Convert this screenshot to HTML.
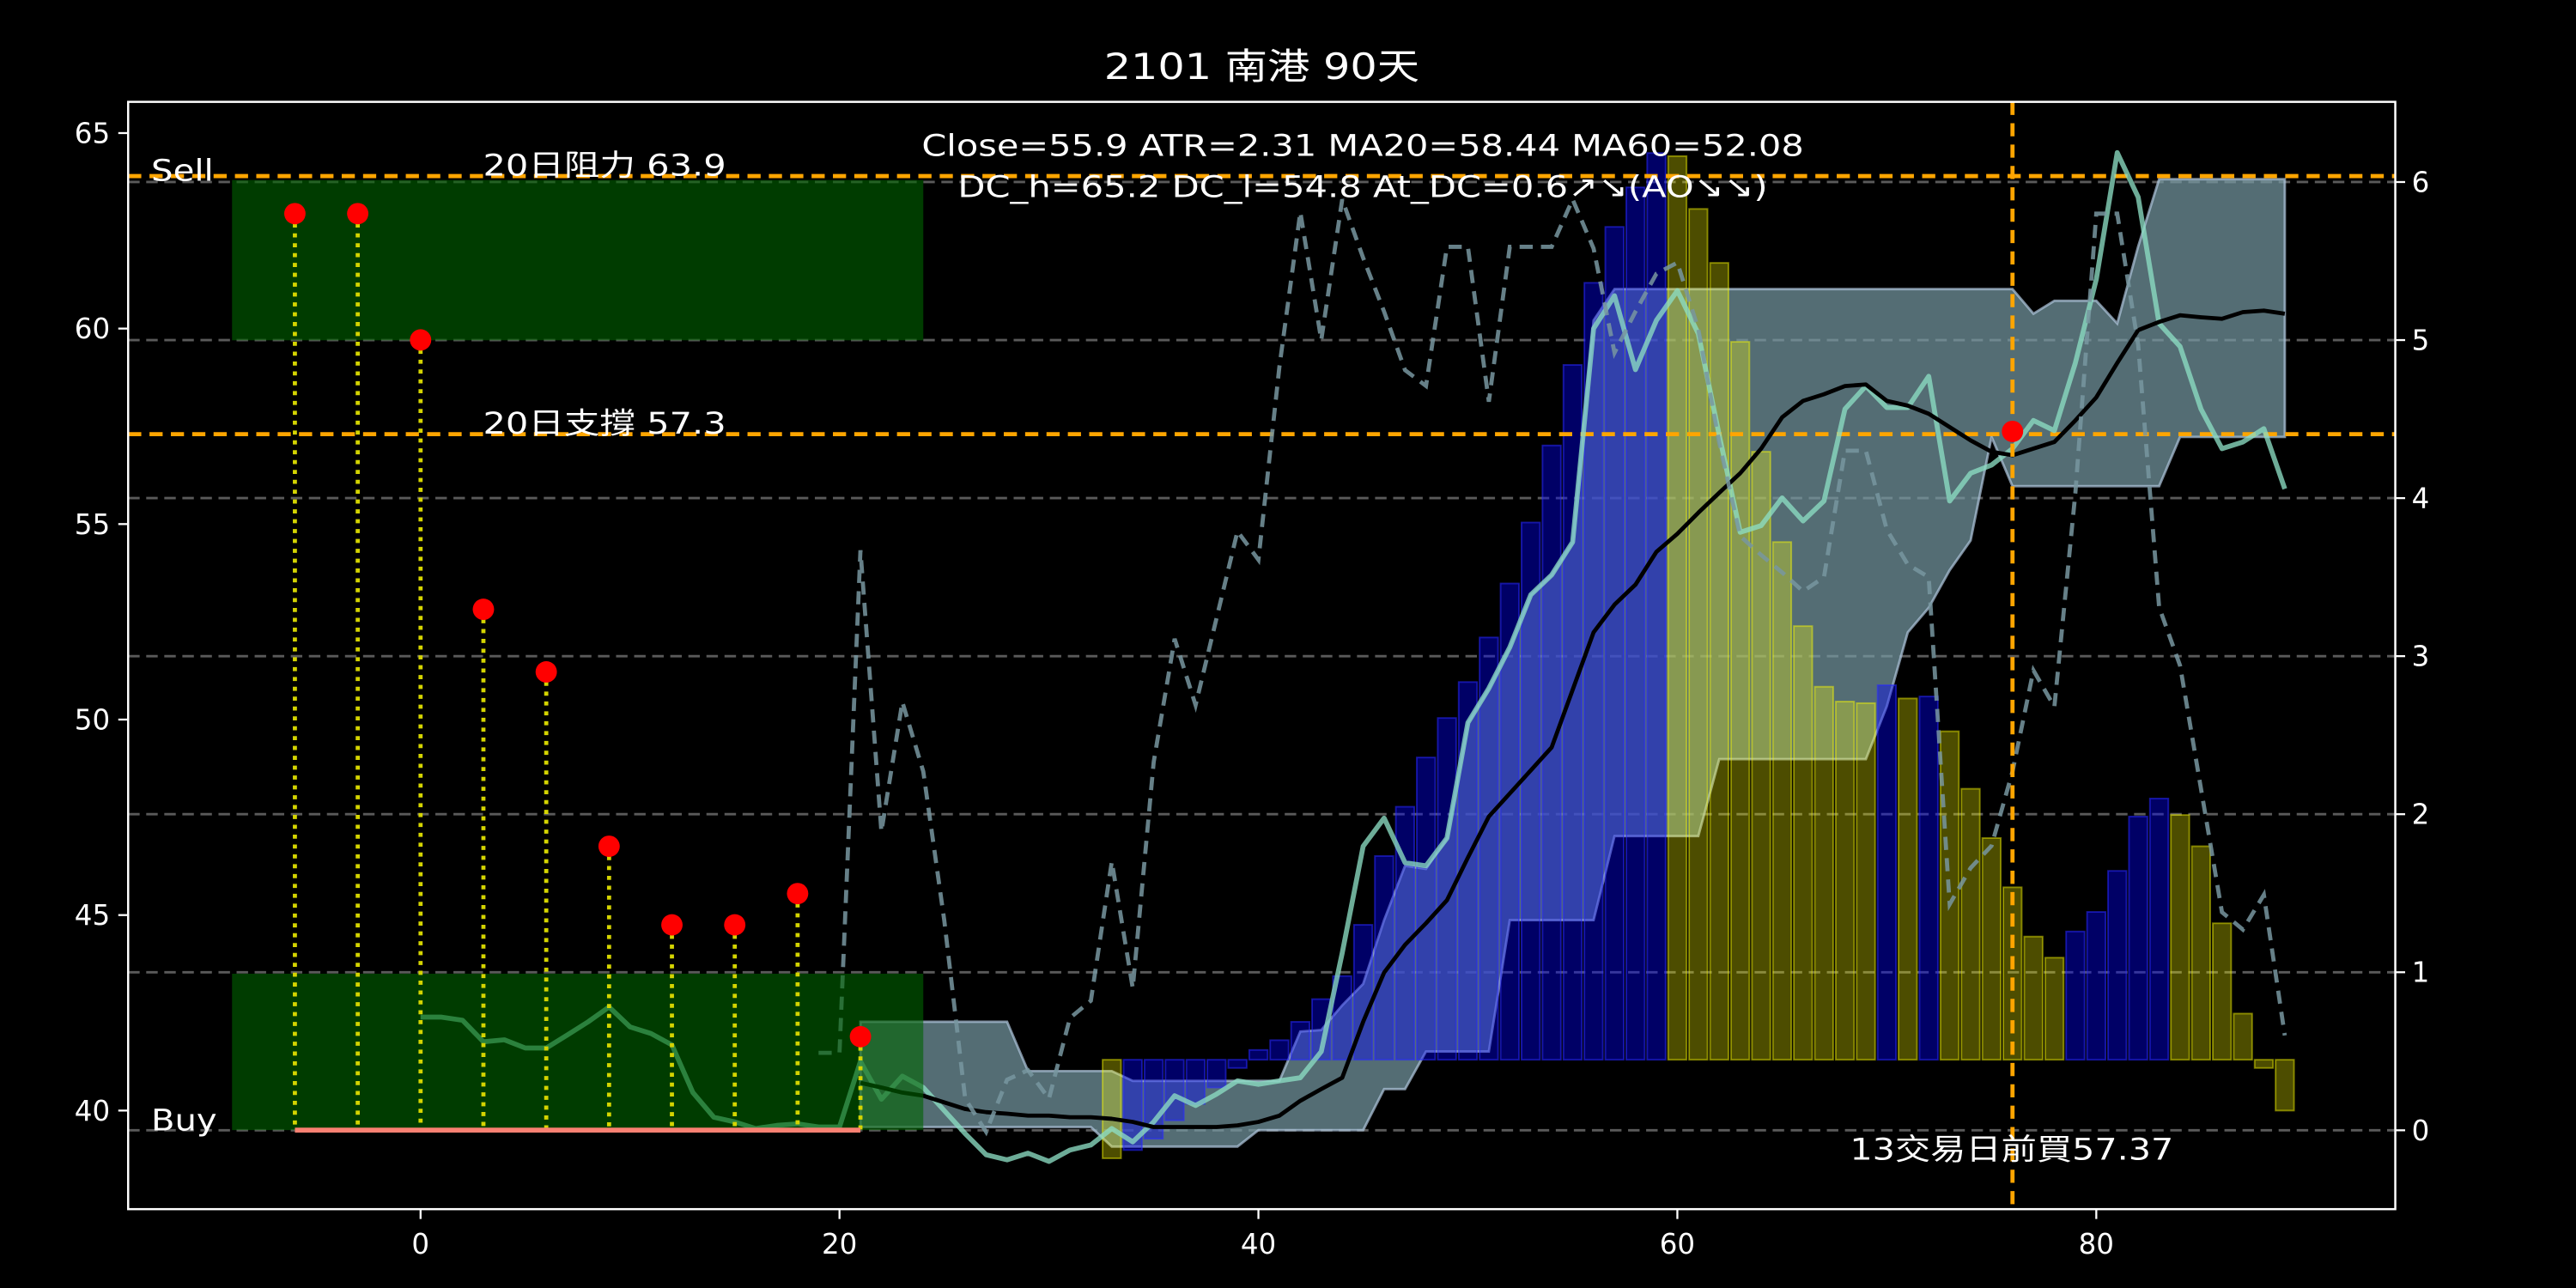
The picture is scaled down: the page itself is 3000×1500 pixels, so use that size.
<!DOCTYPE html>
<html><head><meta charset="utf-8"><title>2101 南港 90天</title>
<style>html,body{margin:0;padding:0;background:#000;}svg{display:block;}text{font-family:"DejaVu Sans","Liberation Sans","Noto Sans CJK TC",sans-serif;fill:#fff;}</style>
</head><body>
<svg id="chart" xmlns="http://www.w3.org/2000/svg" width="3000" height="1500" viewBox="0 0 1568 784" preserveAspectRatio="none">
<rect x="0" y="0" width="1568" height="784" fill="#000"/>
<g id="layers"></g>
</svg>
<script>
// ---- data ----
const closeX0 = 0;
const closeVals = [42.39,42.39,42.31,41.76,41.81,41.60,41.60,41.93,42.27,42.65,42.14,41.97,41.68,40.46,39.83,39.71,39.54,39.62,39.66,39.58,39.58,41.26,40.29,40.88,40.59,40.00,39.41,38.87,38.74,38.91,38.70,38.99,39.12,39.54,39.20,39.71,40.38,40.13,40.42,40.76,40.67,40.76,40.84,41.51,44.03,46.76,47.48,46.34,46.26,46.97,49.92,50.80,51.85,53.19,53.70,54.54,60.00,60.84,58.95,60.21,60.97,59.87,57.27,54.79,54.96,55.67,55.08,55.59,57.94,58.53,57.98,57.98,58.78,55.59,56.30,56.51,56.93,57.65,57.39,59.12,61.26,64.50,63.36,60.13,59.54,57.94,56.93,57.10,57.44,55.90];
const maX0 = 21;
const ma20Vals = [40.71,40.59,40.46,40.38,40.21,40.04,39.96,39.92,39.87,39.87,39.83,39.83,39.79,39.71,39.58,39.58,39.58,39.58,39.62,39.71,39.87,40.25,40.55,40.84,42.27,43.53,44.24,44.79,45.38,46.47,47.52,48.11,48.70,49.29,50.76,52.23,52.94,53.45,54.29,54.75,55.29,55.80,56.30,56.93,57.73,58.15,58.32,58.53,58.57,58.15,58.03,57.82,57.48,57.14,56.85,56.76,56.93,57.10,57.65,58.24,59.12,59.96,60.17,60.34,60.29,60.25,60.42,60.46,60.38];
const dcX0 = 21;
const dcHigh = [42.27,42.27,42.27,42.27,42.27,42.27,42.27,42.27,41.01,41.01,41.01,41.01,41.01,40.76,40.76,40.76,40.76,40.76,40.76,40.76,40.76,42.02,42.06,42.69,43.24,44.87,46.26,46.18,46.97,49.92,50.80,51.85,53.19,53.70,54.54,60.21,61.01,61.01,61.01,61.01,61.01,61.01,61.01,61.01,61.01,61.01,61.01,61.01,61.01,61.01,61.01,61.01,61.01,61.01,61.01,61.01,60.38,60.71,60.71,60.71,60.13,62.10,63.82,63.82,63.82,63.82,63.82,63.82,63.82];
const dcLow = [39.58,39.58,39.58,39.58,39.58,39.58,39.58,39.58,39.58,39.58,39.58,39.58,39.08,39.08,39.08,39.08,39.08,39.08,39.08,39.50,39.50,39.50,39.50,39.50,39.50,40.55,40.55,41.51,41.51,41.51,41.51,44.87,44.87,44.87,44.87,44.87,47.02,47.02,47.02,47.02,47.02,48.99,48.99,48.99,48.99,48.99,48.99,48.99,48.99,50.34,52.23,52.86,53.82,54.58,57.23,55.97,55.97,55.97,55.97,55.97,55.97,55.97,55.97,57.23,57.23,57.23,57.23,57.23,57.23];
const aoX0 = 33;
const aoBase = 41.3;
const aoVals = [-2.52,-2.31,-2.02,-1.55,-1.13,-0.71,-0.21,0.25,0.50,0.97,1.55,2.14,3.45,5.21,6.47,7.73,8.74,9.66,10.80,12.18,13.74,15.71,17.77,19.87,21.30,22.31,23.19,23.11,21.76,20.38,18.36,15.55,13.24,11.09,9.54,9.16,9.12,9.58,9.24,9.29,8.40,6.93,5.67,4.41,3.15,2.61,3.28,3.78,4.83,6.22,6.68,6.26,5.46,3.49,1.18,-0.21,-1.30];
const atrX0 = 19;
const atrVals = [0.49,0.49,3.67,1.89,2.71,2.27,1.33,0.20,-0.01,0.32,0.38,0.20,0.71,0.82,1.70,0.90,2.33,3.11,2.69,3.24,3.79,3.61,4.83,5.81,5.00,5.89,5.52,5.18,4.81,4.71,5.59,5.59,4.61,5.59,5.59,5.59,5.89,5.58,4.92,5.18,5.42,5.49,5.07,4.35,3.76,3.64,3.53,3.41,3.50,4.30,4.30,3.80,3.58,3.50,1.43,1.66,1.80,2.27,2.91,2.68,4.03,5.80,5.80,4.97,3.31,2.94,2.16,1.38,1.27,1.49,0.60];
const sigX = [-6,-3,0,3,6,9,12,15,18,21];
const sigVals = [62.94,62.94,59.71,52.82,51.22,46.76,44.75,44.75,45.55,41.89];
const buyX = [76];
const buyVals = [57.37];
const resistance = 63.9;
const support = 57.3;
const xTicks = [0,20,40,60,80];
const yLTicks = [40,45,50,55,60,65];
const yRTicks = [0,1,2,3,4,5,6];

// ---- axes ----
const L=78,R=1458,T=62,B=736;
const X = x => 256 + 12.75*x;
const YL = v => 676 - 23.8*(v-40);
const YR = r => 688 - 96.2*r;
const NS='http://www.w3.org/2000/svg';
const root=document.getElementById('layers');
function mk(tag, attrs, parent){const e=document.createElementNS(NS,tag);for(const k in attrs)e.setAttribute(k,attrs[k]);(parent||root).appendChild(e);return e;}
function pts(x0, arr, f){return arr.map((v,i)=>X(x0+i).toFixed(2)+','+f(v).toFixed(2)).join(' ');}

const clip=mk('clipPath',{id:'plotclip'});mk('rect',{x:L,y:T,width:R-L,height:B-T},clip);
const plot=mk('g',{'clip-path':'url(#plotclip)'});

// grid (right axis)
yRTicks.forEach(t=>{const g=mk('line',{x1:L,x2:R,y1:YR(t),y2:YR(t),stroke:'#5a5a5a','stroke-width':1.5,'stroke-dasharray':'7,4'},plot);

});

// DC band
const bandPts = pts(dcX0, dcHigh, YL)+' '+dcLow.map((v,i)=>[X(dcX0+i),YL(v)]).reverse().map(p=>p[0].toFixed(2)+','+p[1].toFixed(2)).join(' ');
const band=mk('polygon',{points:bandPts,fill:'rgba(120,155,165,0.7)',stroke:'rgba(176,200,222,0.7)','stroke-width':1.5},plot);



// AO bars
aoVals.forEach((v,i)=>{
  const prev = i>0 ? aoVals[i-1] : Infinity;
  const up = v > prev;
  const y1=YL(aoBase), y2=YL(aoBase+v);
  const b=mk('rect',{x:X(aoX0+i)-5.6,y:Math.min(y1,y2),width:11.2,height:Math.abs(y2-y1),
    fill: up?'rgba(0,0,255,0.4)':'rgba(255,255,0,0.3)',stroke: up?'rgba(40,40,255,0.55)':'rgba(255,255,0,0.45)','stroke-width':1},plot);
  
  
});

// orange level lines
[resistance,support].forEach((v,i)=>{const l=mk('line',{x1:L,x2:R,y1:YL(v),y2:YL(v),stroke:'#ffa500','stroke-width':2.5,'stroke-dasharray':'8,5'},plot);

});

// close line
const cl=mk('polyline',{points:pts(closeX0,closeVals,YL),fill:'none',stroke:'rgba(140,220,195,0.78)','stroke-width':3,'stroke-linejoin':'round'},plot);


// ma20
const ml=mk('polyline',{points:pts(maX0,ma20Vals,YL),fill:'none',stroke:'#000','stroke-width':2.5,'stroke-linejoin':'round'},plot);


// atr dashed (right axis)
const al=mk('polyline',{points:pts(atrX0,atrVals,YR),fill:'none',stroke:'rgba(120,150,160,0.85)','stroke-width':2.5,'stroke-dasharray':'8,5'},plot);



// green zones
const gz1=mk('rect',{x:X(-9),y:YL(63.8),width:X(24)-X(-9),height:YL(59.7)-YL(63.8),fill:'rgba(0,100,0,0.6)'},plot);


const gz2=mk('rect',{x:X(-9),y:YL(43.5),width:X(24)-X(-9),height:YL(39.5)-YL(43.5),fill:'rgba(0,100,0,0.6)'},plot);



// signal stems + salmon baseline + dots
sigX.forEach((x,i)=>{const s=mk('line',{x1:X(x),x2:X(x),y1:YL(sigVals[i]),y2:YL(39.5),stroke:'#d4d400','stroke-width':2.5,'stroke-dasharray':'2.5,3.5'},plot);

});
const sl=mk('line',{x1:X(sigX[0]),x2:X(sigX[sigX.length-1]),y1:YL(39.5),y2:YL(39.5),stroke:'#fa8072','stroke-width':3},plot);


sigX.forEach((x,i)=>{const d=mk('circle',{cx:X(x),cy:YL(sigVals[i]),r:6.5,fill:'#ff0000'},plot);

});
buyX.forEach((x,i)=>{
const v=mk('line',{x1:X(x),x2:X(x),y1:T,y2:B,stroke:'#ffa500','stroke-width':2.5,'stroke-dasharray':'8,5'},plot);


const d=mk('circle',{cx:X(x),cy:YL(buyVals[i]),r:6.5,fill:'#ff0000'},plot);

});

// spine
const sp=mk('rect',{x:L,y:T,width:R-L,height:B-T,fill:'none',stroke:'#fff','stroke-width':1.3});


// ticks
xTicks.forEach(t=>{mk('line',{x1:X(t),x2:X(t),y1:B,y2:B+6,stroke:'#fff','stroke-width':1.2});
const tx=mk('text',{x:X(t),y:B+27,'font-size':17,'text-anchor':'middle'});tx.textContent=t;

});
yLTicks.forEach(t=>{mk('line',{x1:L-6,x2:L,y1:YL(t),y2:YL(t),stroke:'#fff','stroke-width':1.2});
const tx=mk('text',{x:L-11,y:YL(t)+6,'font-size':17,'text-anchor':'end'});tx.textContent=t;

});
yRTicks.forEach(t=>{mk('line',{x1:R,x2:R+6,y1:YR(t),y2:YR(t),stroke:'#fff','stroke-width':1.2});
const tx=mk('text',{x:R+10,y:YR(t)+6,'font-size':17,'text-anchor':'start'});tx.textContent=t;

});
</script>
<script>
// static texts
(function(){
const NS='http://www.w3.org/2000/svg';
const svg=document.getElementById('chart');
function t(x,y,s,txt,name,anchor,len){const e=document.createElementNS(NS,'text');e.setAttribute('x',x);e.setAttribute('y',y);e.setAttribute('font-size',s);if(anchor)e.setAttribute('text-anchor',anchor);if(len){e.setAttribute('textLength',len);e.setAttribute('lengthAdjust','spacingAndGlyphs');}e.textContent=txt;svg.appendChild(e);

}
t(672,48,22,'2101 南港 90天','chart-title',null,192);
t(561,95,18,'Close=55.9 ATR=2.31 MA20=58.44 MA60=52.08','stats-line-1',null,537);
t(583,120,18,'DC_h=65.2 DC_l=54.8 At_DC=0.6↗↘(AO↘↘)','stats-line-2',null,493);
t(92,110,18,'Sell','sell-label',null,38);
t(92,688,18,'Buy','buy-label',null,40);
t(294,107,18,'20日阻力 63.9','resistance-label',null,148);
t(294,264,18,'20日支撐 57.3','support-label',null,148);
t(1126,706,18,'13交易日前買57.37','buy-note-label',null,197);
})();
</script>
</body></html>
